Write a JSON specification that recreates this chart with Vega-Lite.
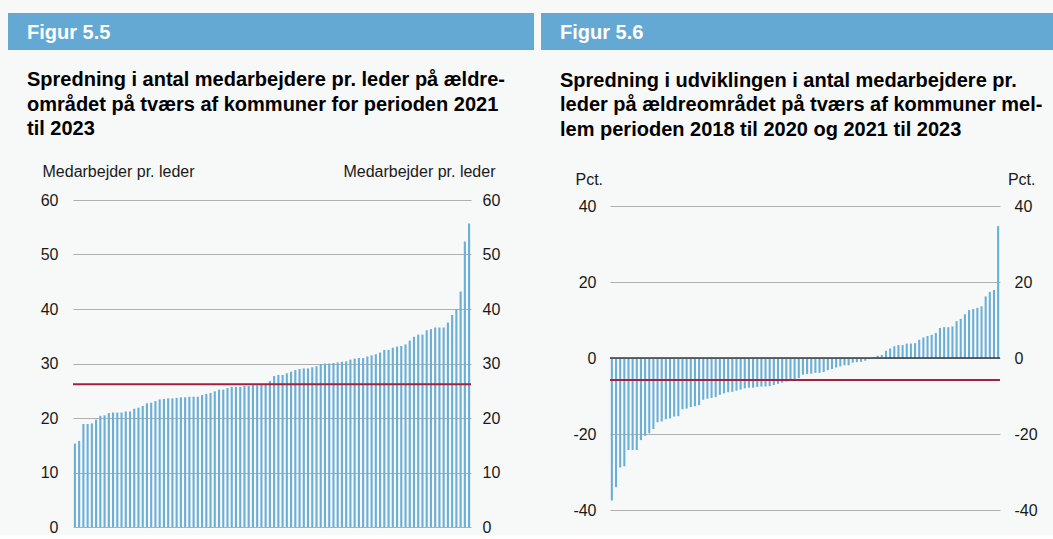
{
  "$schema": "https://vega.github.io/schema/vega-lite/v6.json",
  "background": "#f7f8f8",
  "padding": {"left": 8, "top": 13, "right": 0, "bottom": 0},
  "datasets": {
    "p1": [
      {"i":1,"v":15.3},{"i":2,"v":15.8},{"i":3,"v":18.9},{"i":4,"v":18.9},{"i":5,"v":19.0},{"i":6,"v":19.7},{"i":7,"v":20.4},{"i":8,"v":20.5},{"i":9,"v":20.9},{"i":10,"v":21.0},
      {"i":11,"v":21.0},{"i":12,"v":21.0},{"i":13,"v":21.2},{"i":14,"v":21.2},{"i":15,"v":21.7},{"i":16,"v":21.9},{"i":17,"v":22.2},{"i":18,"v":22.7},{"i":19,"v":22.8},{"i":20,"v":23.1},
      {"i":21,"v":23.4},{"i":22,"v":23.5},{"i":23,"v":23.6},{"i":24,"v":23.6},{"i":25,"v":23.7},{"i":26,"v":23.8},{"i":27,"v":23.8},{"i":28,"v":23.9},{"i":29,"v":23.9},{"i":30,"v":23.9},
      {"i":31,"v":24.2},{"i":32,"v":24.4},{"i":33,"v":24.6},{"i":34,"v":24.9},{"i":35,"v":25.2},{"i":36,"v":25.2},{"i":37,"v":25.5},{"i":38,"v":25.7},{"i":39,"v":25.7},{"i":40,"v":25.7},
      {"i":41,"v":25.9},{"i":42,"v":25.9},{"i":43,"v":26.0},{"i":44,"v":26.0},{"i":45,"v":26.1},{"i":46,"v":26.3},{"i":47,"v":26.8},{"i":48,"v":27.7},{"i":49,"v":27.9},{"i":50,"v":27.9},
      {"i":51,"v":28.2},{"i":52,"v":28.5},{"i":53,"v":28.8},{"i":54,"v":29.0},{"i":55,"v":29.1},{"i":56,"v":29.1},{"i":57,"v":29.3},{"i":58,"v":29.5},{"i":59,"v":29.9},{"i":60,"v":30.0},
      {"i":61,"v":30.0},{"i":62,"v":30.1},{"i":63,"v":30.2},{"i":64,"v":30.3},{"i":65,"v":30.4},{"i":66,"v":30.7},{"i":67,"v":30.9},{"i":68,"v":31.0},{"i":69,"v":31.0},{"i":70,"v":31.3},
      {"i":71,"v":31.5},{"i":72,"v":31.7},{"i":73,"v":32.0},{"i":74,"v":32.5},{"i":75,"v":32.5},{"i":76,"v":32.9},{"i":77,"v":33.1},{"i":78,"v":33.2},{"i":79,"v":33.5},{"i":80,"v":34.2},
      {"i":81,"v":34.9},{"i":82,"v":35.3},{"i":83,"v":35.3},{"i":84,"v":36.1},{"i":85,"v":36.3},{"i":86,"v":36.6},{"i":87,"v":36.6},{"i":88,"v":36.6},{"i":89,"v":37.5},{"i":90,"v":38.9},
      {"i":91,"v":40.0},{"i":92,"v":43.2},{"i":93,"v":52.4},{"i":94,"v":55.7}
    ],
    "p2": [
      {"i":1,"v":-37.5},{"i":2,"v":-34.0},{"i":3,"v":-28.8},{"i":4,"v":-28.5},{"i":5,"v":-24.2},{"i":6,"v":-24.2},{"i":7,"v":-24.2},{"i":8,"v":-21.6},{"i":9,"v":-20.5},{"i":10,"v":-19.8},
      {"i":11,"v":-18.7},{"i":12,"v":-16.9},{"i":13,"v":-16.7},{"i":14,"v":-16.1},{"i":15,"v":-15.9},{"i":16,"v":-15.4},{"i":17,"v":-15.3},{"i":18,"v":-13.5},{"i":19,"v":-13.3},{"i":20,"v":-12.9},
      {"i":21,"v":-12.7},{"i":22,"v":-12.4},{"i":23,"v":-11.0},{"i":24,"v":-10.7},{"i":25,"v":-10.5},{"i":26,"v":-10.3},{"i":27,"v":-9.7},{"i":28,"v":-9.3},{"i":29,"v":-9.0},{"i":30,"v":-8.9},
      {"i":31,"v":-8.6},{"i":32,"v":-8.3},{"i":33,"v":-8.0},{"i":34,"v":-7.8},{"i":35,"v":-7.8},{"i":36,"v":-7.6},{"i":37,"v":-7.5},{"i":38,"v":-7.5},{"i":39,"v":-7.4},{"i":40,"v":-7.1},
      {"i":41,"v":-6.8},{"i":42,"v":-6.5},{"i":43,"v":-6.2},{"i":44,"v":-5.9},{"i":45,"v":-5.7},{"i":46,"v":-5.3},{"i":47,"v":-4.4},{"i":48,"v":-4.2},{"i":49,"v":-4.1},{"i":50,"v":-3.9},
      {"i":51,"v":-3.9},{"i":52,"v":-3.7},{"i":53,"v":-3.2},{"i":54,"v":-2.9},{"i":55,"v":-2.5},{"i":56,"v":-2.2},{"i":57,"v":-1.9},{"i":58,"v":-1.9},{"i":59,"v":-1.2},{"i":60,"v":-1.1},
      {"i":61,"v":-1.0},{"i":62,"v":-0.7},{"i":63,"v":-0.3},{"i":64,"v":0.1},{"i":65,"v":0.6},{"i":66,"v":0.8},{"i":67,"v":1.9},{"i":68,"v":2.5},{"i":69,"v":3.1},{"i":70,"v":3.4},
      {"i":71,"v":3.4},{"i":72,"v":3.8},{"i":73,"v":3.8},{"i":74,"v":3.9},{"i":75,"v":4.8},{"i":76,"v":5.4},{"i":77,"v":5.8},{"i":78,"v":6.1},{"i":79,"v":6.6},{"i":80,"v":7.9},
      {"i":81,"v":8.1},{"i":82,"v":8.1},{"i":83,"v":8.3},{"i":84,"v":9.7},{"i":85,"v":10.3},{"i":86,"v":11.5},{"i":87,"v":12.6},{"i":88,"v":12.9},{"i":89,"v":13.2},{"i":90,"v":13.6},
      {"i":91,"v":16.2},{"i":92,"v":17.4},{"i":93,"v":17.9},{"i":94,"v":34.7}
    ],
    "avg1": [{"v": 26.2}],
    "avg2": [{"v": -5.8}],
    "zero": [{"v": 0}],
    "none": []
  },
  "spacing": 7,
  "hconcat": [
    {
      "spacing": 20,
      "vconcat": [
        {
          "data": {"values": [{"t": "Figur 5.5"}]},
          "width": 526,
          "height": 37,
          "view": {"fill": "#63a9d4", "stroke": null},
          "title": {"text": "Figur 5.5", "orient": "top", "anchor": "start", "frame": "group", "offset": -46, "baseline": "alphabetic", "dx": 19, "color": "#ffffff", "fontSize": 20, "fontWeight": "bold"},
          "mark": {"type": "rect", "color": "#63a9d4"}
        },
        {
          "spacing": 0,
          "hconcat": [
            {"data": {"name": "none"}, "width": 1, "height": 1, "mark": "rect"},
            {
              "width": 398,
              "height": 327,
              "title": {
                "text": ["Spredning i antal medarbejdere pr. leder på ældre-", "området på tværs af kommuner for perioden 2021", "til 2023"],
                "anchor": "start", "frame": "bounds", "dx": 18, "offset": 24,
                "fontSize": 20, "fontWeight": "bold", "lineHeight": 24.5, "color": "#000000"
              },
              "layer": [
                {
                  "data": {"name": "p1"},
                  "mark": {"type": "bar", "color": "#6baed6"},
                  "encoding": {
                    "x": {"field": "i", "type": "ordinal", "axis": null, "scale": {"paddingInner": 0.5, "paddingOuter": 0.2}},
                    "y": {"field": "v", "type": "quantitative", "scale": {"domain": [0, 60]},
                      "axis": {"orient": "left", "values": [0, 10, 20, 30, 40, 50, 60], "title": "Medarbejder pr. leder", "titleAngle": 0, "titleAlign": "left", "titleBaseline": "alphabetic", "titleX": -31, "titleY": -24, "labelPadding": 15, "minExtent": 64, "grid": true}}
                  }
                },
                {
                  "data": {"name": "avg1"},
                  "mark": {"type": "rule", "color": "#a3223f", "strokeWidth": 2},
                  "encoding": {
                    "y": {"field": "v", "type": "quantitative", "scale": {"domain": [0, 60]},
                      "axis": {"orient": "right", "values": [0, 10, 20, 30, 40, 50, 60], "title": "Medarbejder pr. leder", "titleAngle": 0, "titleAlign": "right", "titleBaseline": "alphabetic", "titleX": 24, "titleY": -24, "labelPadding": 11, "grid": false}}
                  }
                }
              ],
              "resolve": {"axis": {"y": "independent"}}
            }
          ]
        }
      ]
    },
    {
      "spacing": 20,
      "vconcat": [
        {
          "data": {"values": [{"t": "Figur 5.6"}]},
          "width": 512,
          "height": 37,
          "view": {"fill": "#63a9d4", "stroke": null},
          "title": {"text": "Figur 5.6", "orient": "top", "anchor": "start", "frame": "group", "offset": -46, "baseline": "alphabetic", "dx": 19, "color": "#ffffff", "fontSize": 20, "fontWeight": "bold"},
          "mark": {"type": "rect", "color": "#63a9d4"}
        },
        {
          "spacing": 0,
          "hconcat": [
            {"data": {"name": "none"}, "width": 1, "height": 1, "mark": "rect"},
            {
              "width": 390,
              "height": 304,
              "title": {
                "text": ["Spredning i udviklingen i antal medarbejdere pr.", "leder på ældreområdet på tværs af kommuner mel-", "lem perioden 2018 til 2020 og 2021 til 2023"],
                "anchor": "start", "frame": "bounds", "dx": 18, "offset": 31.5,
                "fontSize": 20, "fontWeight": "bold", "lineHeight": 24.5, "color": "#000000"
              },
              "layer": [
                {
                  "data": {"name": "p2"},
                  "mark": {"type": "bar", "color": "#6baed6"},
                  "encoding": {
                    "x": {"field": "i", "type": "ordinal", "axis": null, "scale": {"paddingInner": 0.5, "paddingOuter": 0.2}},
                    "y": {"field": "v", "type": "quantitative", "scale": {"domain": [-40, 40]},
                      "axis": {"orient": "left", "values": [-40, -20, 0, 20, 40], "labelExpr": "toString(datum.value)", "title": "Pct.", "titleAngle": 0, "titleAlign": "left", "titleBaseline": "alphabetic", "titleX": -35, "titleY": -22, "labelPadding": 14, "minExtent": 68, "grid": true}}
                  }
                },
                {
                  "data": {"name": "zero"},
                  "mark": {"type": "rule", "color": "#3a3a3a", "strokeWidth": 1.5},
                  "encoding": {
                    "y": {"field": "v", "type": "quantitative", "scale": {"domain": [-40, 40]}, "axis": null}
                  }
                },
                {
                  "data": {"name": "avg2"},
                  "mark": {"type": "rule", "color": "#a3223f", "strokeWidth": 2},
                  "encoding": {
                    "y": {"field": "v", "type": "quantitative", "scale": {"domain": [-40, 40]},
                      "axis": {"orient": "right", "values": [-40, -20, 0, 20, 40], "labelExpr": "toString(datum.value)", "title": "Pct.", "titleAngle": 0, "titleAlign": "right", "titleBaseline": "alphabetic", "titleX": 35, "titleY": -22, "labelPadding": 14, "grid": false}}
                  }
                }
              ],
              "resolve": {"axis": {"y": "independent"}}
            }
          ]
        }
      ]
    }
  ],
  "config": {
    "font": "Liberation Sans",
    "view": {"stroke": null},
    "axis": {"labelColor": "#1a1a1a", "titleColor": "#1a1a1a", "labelFontSize": 16, "titleFontSize": 16, "titleFontWeight": "normal", "gridColor": "#b0b0b0", "gridWidth": 1.2, "ticks": false, "domain": false}
  }
}
